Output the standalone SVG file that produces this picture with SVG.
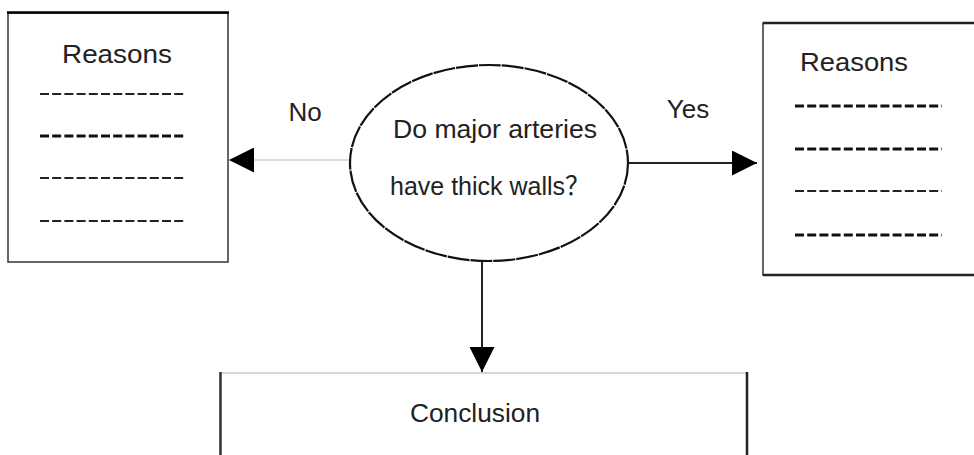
<svg xmlns="http://www.w3.org/2000/svg" width="974" height="455" viewBox="0 0 974 455">
<style>
  .lbl { font-family: "Liberation Sans", Arial, sans-serif; fill: #222; font-size: 26px; }
  .box { fill: #fff; stroke: #333; stroke-width: 1.5; }
  .dl { stroke: #222; stroke-width: 1.8; stroke-dasharray: 9 3.2; fill: none; }
  .dh { stroke: #111; stroke-width: 3; stroke-dasharray: 9 3.2; fill: none; }
</style>
<defs>
  <marker id="ah" viewBox="0 0 10 10" refX="10" refY="5" markerUnits="userSpaceOnUse" markerWidth="27" markerHeight="25" orient="auto">
    <path d="M0,0 L10,5 L0,10 Z" fill="#000"/>
  </marker>
</defs>
<rect width="974" height="455" fill="#fff"/>

<g id="connectors">
  <line x1="350" y1="160" x2="229" y2="160" stroke="#bbb" stroke-width="1.2" marker-end="url(#ah)"/>
  <line x1="629" y1="163" x2="757" y2="163" stroke="#222" stroke-width="2" marker-end="url(#ah)"/>
  <line x1="482" y1="262" x2="482" y2="372" stroke="#222" stroke-width="2" marker-end="url(#ah)"/>
  <text class="lbl" x="305" y="121" text-anchor="middle">No</text>
  <text class="lbl" x="688" y="118" text-anchor="middle">Yes</text>
</g>

<g id="reasons-left">
  <rect class="box" x="8" y="13" width="220" height="249"/>
  <line x1="7" y1="12.5" x2="229" y2="12.5" stroke="#000" stroke-width="2.5"/>
  <text class="lbl" x="117" y="63" text-anchor="middle" textLength="110" lengthAdjust="spacingAndGlyphs">Reasons</text>
  <line class="dl" x1="40" y1="94" x2="186" y2="94"/>
  <line class="dh" x1="40" y1="136" x2="186" y2="136"/>
  <line class="dl" x1="40" y1="178" x2="186" y2="178"/>
  <line class="dl" x1="40" y1="221" x2="186" y2="221" stroke-width="2.2"/>
</g>

<g id="question">
  <ellipse cx="489" cy="163" rx="139" ry="98" fill="#fff" stroke="#111" stroke-width="2.2" stroke-dasharray="22 1"/>
  <text class="lbl" x="495" y="138" text-anchor="middle" textLength="204" lengthAdjust="spacingAndGlyphs">Do major arteries</text>
  <text class="lbl" x="490" y="195" text-anchor="middle" textLength="200" lengthAdjust="spacingAndGlyphs" style="font-family:'Liberation Sans','Noto Sans CJK SC',sans-serif">have thick walls？</text>
</g>

<g id="reasons-right">
  <rect class="box" x="763" y="23" width="220" height="252"/>
  <line x1="763" y1="23" x2="974" y2="23" stroke="#222" stroke-width="2.5"/>
  <line x1="763" y1="275" x2="974" y2="275" stroke="#222" stroke-width="2.5"/>
  <text class="lbl" x="800" y="71" textLength="108" lengthAdjust="spacingAndGlyphs">Reasons</text>
  <line class="dh" x1="795" y1="106" x2="942" y2="106"/>
  <line class="dh" x1="795" y1="149" x2="942" y2="149"/>
  <line class="dl" x1="795" y1="191" x2="942" y2="191" stroke-width="1.2"/>
  <line class="dh" x1="795" y1="235" x2="942" y2="235"/>
</g>

<g id="conclusion">
  <rect x="220" y="373" width="527" height="90" fill="#fff" stroke="#bbb" stroke-width="1.2"/>
  <line x1="220.5" y1="372" x2="220.5" y2="455" stroke="#333" stroke-width="2.5"/>
  <line x1="747" y1="372" x2="747" y2="455" stroke="#222" stroke-width="2.5"/>
  <text class="lbl" x="475" y="422" text-anchor="middle" textLength="130" lengthAdjust="spacingAndGlyphs">Conclusion</text>
</g>
</svg>
